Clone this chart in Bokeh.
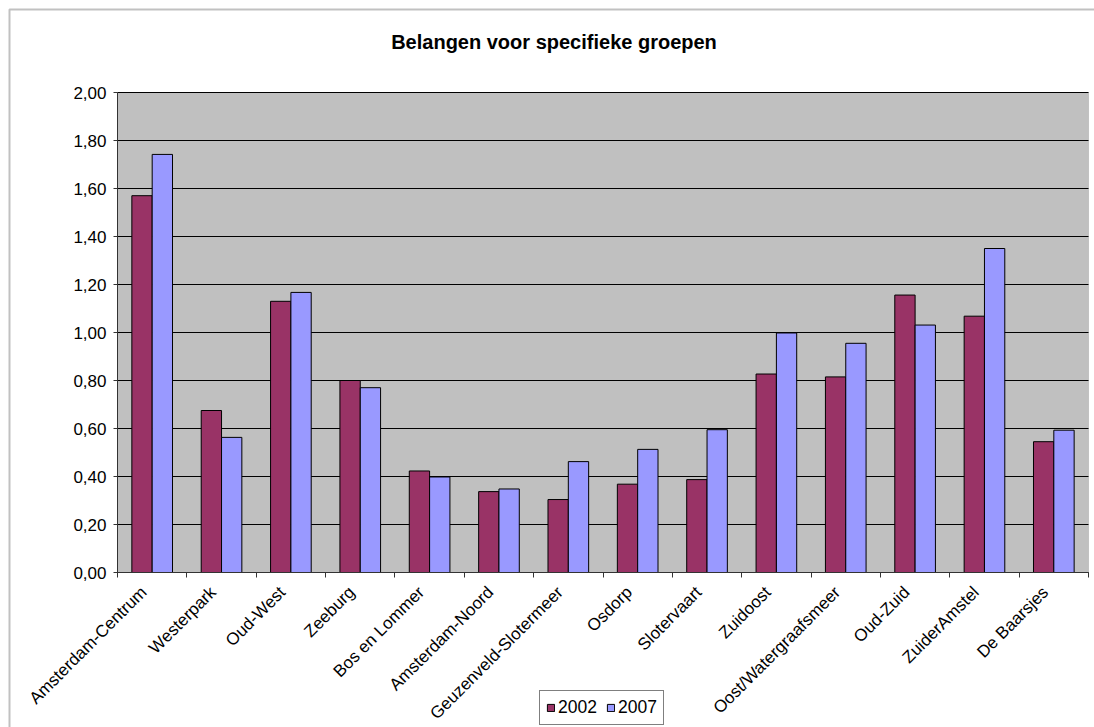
import math
from bokeh.plotting import figure
from bokeh.models import (ColumnDataSource, Range1d, LinearAxis, FixedTicker,
                          Legend, LegendItem, Label, BoxAnnotation, Grid)
from bokeh.embed import file_html
from bokeh.resources import INLINE

# ---- data ----
categories = ["Amsterdam-Centrum", "Westerpark", "Oud-West", "Zeeburg",
              "Bos en Lommer", "Amsterdam-Noord", "Geuzenveld-Slotermeer",
              "Osdorp", "Slotervaart", "Zuidoost", "Oost/Watergraafsmeer",
              "Oud-Zuid", "ZuiderAmstel", "De Baarsjes"]
series_names = ["2002", "2007"]
values_2002 = [1.57, 0.675, 1.13, 0.80, 0.423, 0.337, 0.304, 0.368, 0.387,
               0.827, 0.815, 1.156, 1.068, 0.545]
values_2007 = [1.742, 0.563, 1.167, 0.770, 0.398, 0.348, 0.462, 0.513, 0.595,
               0.998, 0.955, 1.031, 1.350, 0.593]
y_ticks = [0.0, 0.2, 0.4, 0.6, 0.8, 1.0, 1.2, 1.4, 1.6, 1.8, 2.0]
y_tick_labels = ["0,00", "0,20", "0,40", "0,60", "0,80", "1,00", "1,20",
                 "1,40", "1,60", "1,80", "2,00"]
title_text = "Belangen voor specifieke groepen"

# ---- layout (pixels of the 1094x727 canvas) ----
W, H = 1094, 727
PLOT_L, PLOT_R, PLOT_T, PLOT_B = 117, 1088, 92, 572
Y_MAX_VAL = 2.0
n = len(categories)
sx = (PLOT_R - PLOT_L) / n
sy = (PLOT_B - PLOT_T) / Y_MAX_VAL


def px2x(px):
    return (px - PLOT_L) / sx


def px2y(py):
    return (PLOT_B - py) / sy


FONT = "Liberation Sans"
C2002 = "#993366"
C2007 = "#9999FF"
BAR_W = 0.293
LABEL_SHIFT = -0.12  # rotated labels end slightly left of the category centre

centers = [i + 0.5 for i in range(n)]
label_pos = [c + LABEL_SHIFT for c in centers]
bounds = [float(i) for i in range(n + 1)]

src = ColumnDataSource(dict(
    x02=[c - BAR_W / 2 for c in centers],
    x07=[c + BAR_W / 2 for c in centers],
    v02=values_2002,
    v07=values_2007,
))

p = figure(width=W, height=H, output_backend="svg", toolbar_location=None,
           x_range=Range1d(px2x(0), px2x(W)), y_range=Range1d(px2y(H), px2y(0)),
           x_axis_type=None, y_axis_type=None,
           min_border=0)
p.background_fill_color = "white"
p.border_fill_color = "white"
p.outline_line_color = None

# outer chart border (top & left visible)
p.add_layout(BoxAnnotation(left=px2x(9), top=px2y(9), right=px2x(W + 50),
                           bottom=px2y(H + 50), fill_alpha=0,
                           line_color="#333333", line_width=2, level="underlay"))

# plot area
p.add_layout(BoxAnnotation(left=0, right=n, bottom=0, top=Y_MAX_VAL,
                           fill_color="#C0C0C0", fill_alpha=1,
                           line_color="#808080", line_width=1, level="underlay"))

# grid
yticker = FixedTicker(ticks=y_ticks, minor_ticks=[])
p.add_layout(Grid(dimension=1, ticker=yticker, grid_line_color="black",
                  grid_line_width=1, bounds=(0, Y_MAX_VAL), cross_bounds=(0, n)))

# axes
yaxis = LinearAxis(ticker=yticker, fixed_location=0, bounds=(0, Y_MAX_VAL))
yaxis.major_label_overrides = {t: l for t, l in zip(y_ticks, y_tick_labels)}
yaxis.major_label_text_font = FONT
yaxis.major_label_text_font_size = "17px"
yaxis.major_label_text_color = "black"
yaxis.major_tick_in = 0
yaxis.major_tick_out = 4
yaxis.major_label_standoff = 7
yaxis.axis_line_color = "#333333"
yaxis.major_tick_line_color = "#333333"
p.add_layout(yaxis, "left")

xaxis = LinearAxis(ticker=FixedTicker(ticks=label_pos, minor_ticks=bounds),
                   fixed_location=0, bounds=(0, n))
xaxis.major_label_overrides = {c: name for c, name in zip(label_pos, categories)}
xaxis.major_label_orientation = math.pi / 4
xaxis.major_label_text_font = FONT
xaxis.major_label_text_font_size = "17px"
xaxis.major_label_text_color = "black"
xaxis.major_tick_line_color = None
xaxis.major_tick_in = 0
xaxis.major_tick_out = 0
xaxis.minor_tick_in = 0
xaxis.minor_tick_out = 5
xaxis.minor_tick_line_color = "#333333"
xaxis.axis_line_color = "#333333"
xaxis.major_label_standoff = 12
p.add_layout(xaxis, "below")

r02 = p.vbar(x="x02", top="v02", width=BAR_W, source=src, fill_color=C2002,
             line_color="black", line_width=1)
r07 = p.vbar(x="x07", top="v07", width=BAR_W, source=src, fill_color=C2007,
             line_color="black", line_width=1)

legend = Legend(items=[LegendItem(label=series_names[0], renderers=[r02]),
                       LegendItem(label=series_names[1], renderers=[r07])],
                orientation="horizontal", location=(539, 2))
legend.label_text_font = FONT
legend.label_text_font_size = "17.5px"
legend.label_text_color = "black"
legend.glyph_width = 9
legend.glyph_height = 9
legend.label_standoff = 3
legend.spacing = 9
legend.padding = 6
legend.margin = 0
legend.border_line_color = "black"
legend.border_line_width = 1
legend.background_fill_color = "white"
legend.background_fill_alpha = 1
p.add_layout(legend, "center")

p.add_layout(Label(x=px2x(553.5), y=px2y(41.5), text=title_text,
                   text_align="center", text_baseline="middle",
                   text_font=FONT, text_font_size="20px",
                   text_font_style="bold", text_color="black"))

open("out.html", "w").write(file_html(p, INLINE))
